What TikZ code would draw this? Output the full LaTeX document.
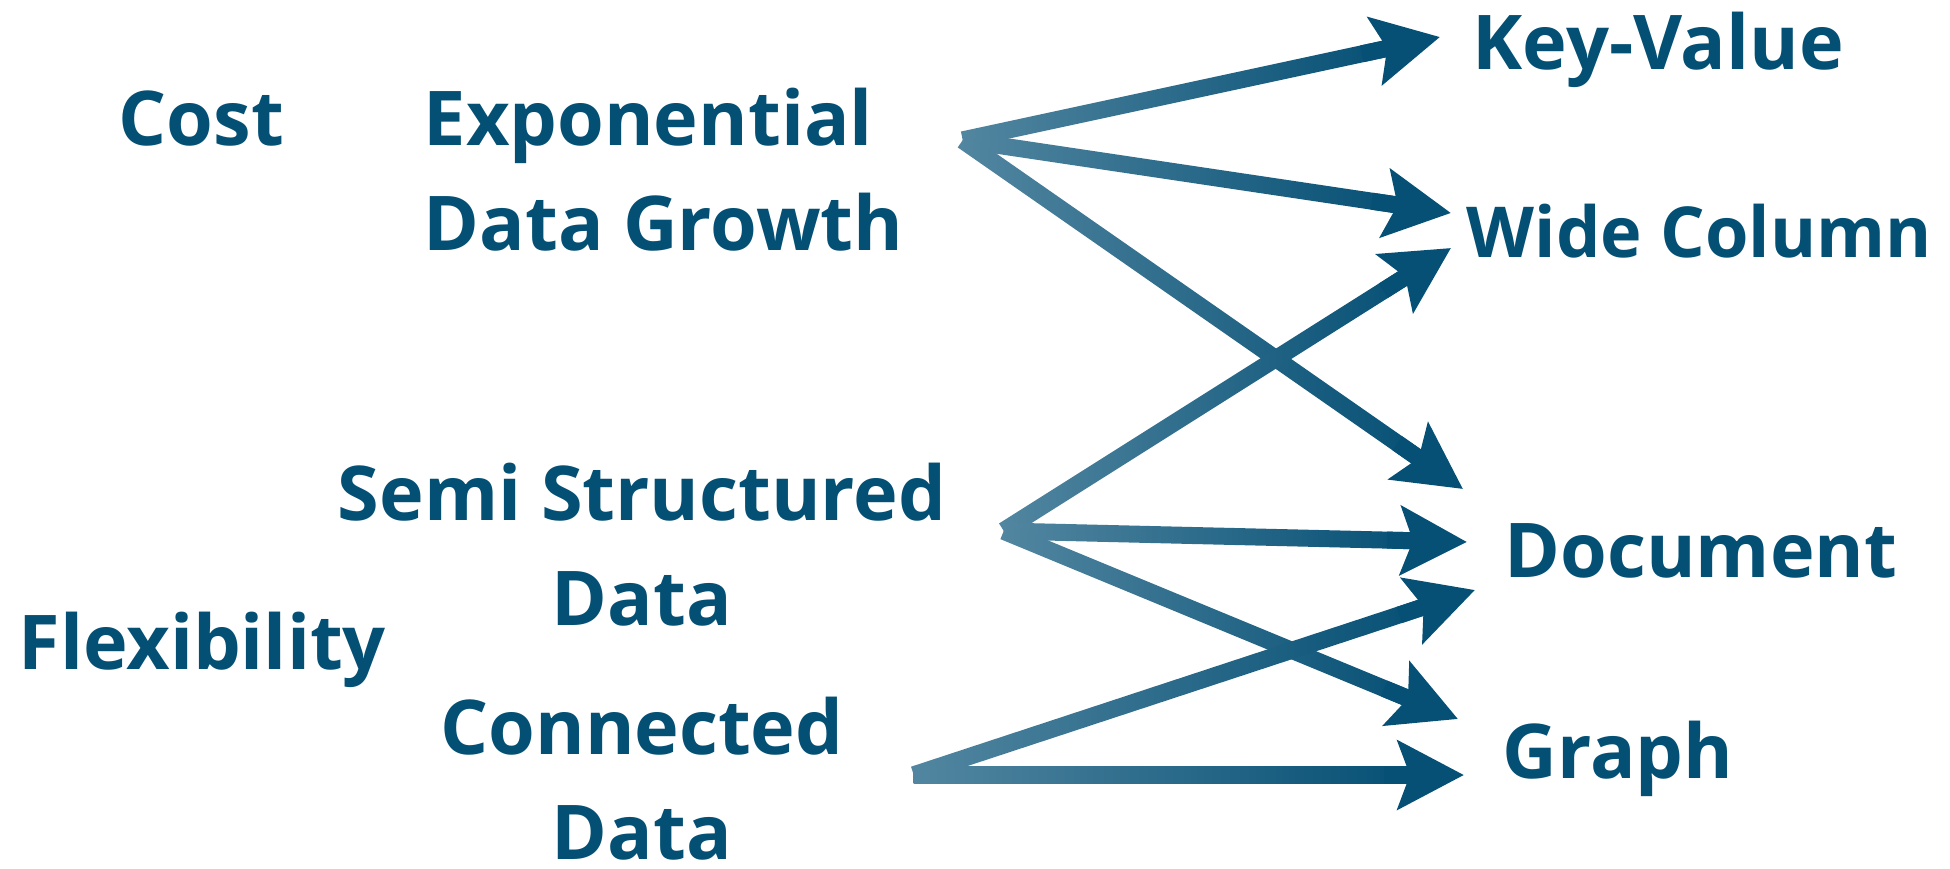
\documentclass[tikz,border=0pt]{standalone}
\usepackage{fontspec}
\setmainfont{Open Sans}
\usetikzlibrary{calc,arrows.meta}

\definecolor{nosqltext}{RGB}{4,80,116}
\definecolor{arrowdark}{RGB}{6,80,117}
\definecolor{arrowlight}{RGB}{82,134,160}

\begin{document}
\begin{tikzpicture}[
		label/.style = {inner sep=0, text=nosqltext, font=\bfseries\fontsize{21.5pt}{29.6pt}\selectfont},
		shaft/.style = {shade, left color=arrowlight, right color=arrowdark, inner sep=0, minimum height=1.7mm, anchor=west},
		tip/.style = {arrowdark, line width=1.7mm, -{Stealth[length=6.6mm, width=6.8mm, inset=1.2mm]}},
	]
	\useasboundingbox (0,0) rectangle (19.5,-8.68);

	\node[label, anchor=base west] (cost) at (1.18,-1.45) {Cost};
	\node[label, anchor=base west] (flex) at (0.18,-6.69) {Flexibility};
	\node[label, anchor=base west, align=left] (growth) at (4.23,-2.50) {Exponential\\Data Growth};
	\node[label, anchor=base, align=center] (semi) at (6.42,-6.25) {Semi Structured\\Data};
	\node[label, anchor=base, align=center] (conn) at (6.42,-8.59) {Connected\\Data};

	\node[label, anchor=base west] (kv) at (14.72,-0.69) {Key-Value};
	\node[label, anchor=base west, font=\bfseries\fontsize{20pt}{24pt}\selectfont] (wide) at (14.66,-2.57) {Wide Column};
	\node[label, anchor=base west] (doc) at (15.04,-5.77) {Document};
	\node[label, anchor=base west] (graph) at (15.02,-7.78) {Graph};

	\coordinate (growthOut) at (9.62,-1.40);
	\coordinate (semiOut) at (10.03,-5.31);
	\coordinate (connOut) at (9.13,-7.75);
	\coordinate (kvIn) at (14.40,-0.37);
	\coordinate (wideInA) at (14.51,-2.13);
	\coordinate (wideInB) at (14.51,-2.48);
	\coordinate (docInA) at (14.63,-4.89);
	\coordinate (docInB) at (14.67,-5.42);
	\coordinate (docInC) at (14.75,-5.90);
	\coordinate (graphInA) at (14.58,-7.19);
	\coordinate (graphInB) at (14.64,-7.75);

	\foreach \a/\b in {growthOut/kvIn, growthOut/wideInA, growthOut/docInA,
			semiOut/wideInB, semiOut/docInB, semiOut/graphInA,
			connOut/docInC, connOut/graphInB} {
		\path let \p1 = ($(\b)-(\a)$), \n1 = {atan2(\y1,\x1)}, \n2 = {veclen(\x1,\y1)} in
			node[shaft, rotate=\n1, minimum width=\n2-16pt] at (\a) {};
		\draw[tip] ($(\b)!8mm!(\a)$) -- (\b);
	}
\end{tikzpicture}
\end{document}
